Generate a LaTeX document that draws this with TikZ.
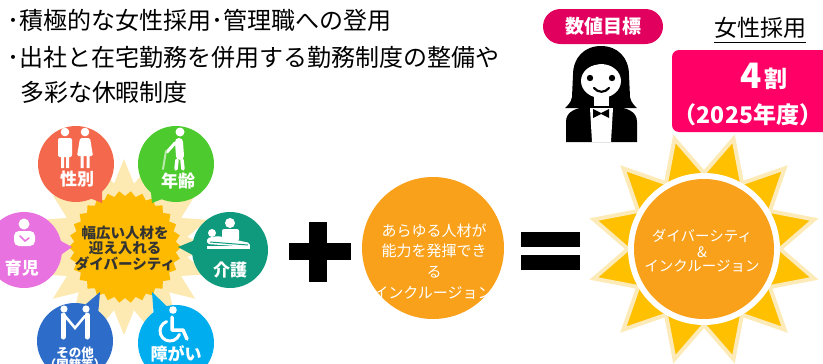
\documentclass[tikz,border=0pt]{standalone}
\usepackage{fontspec}
\setmainfont{Noto Sans CJK JP}
\usetikzlibrary{calc}

\definecolor{goalpink}{HTML}{E2005F}
\definecolor{ratepink}{HTML}{FF0066}
\definecolor{palesun}{HTML}{FDE9B2}
\definecolor{goldsun}{HTML}{FDBA00}
\definecolor{rayyellow}{HTML}{FFC000}
\definecolor{rayedge}{HTML}{FCEAB8}
\definecolor{incorange}{HTML}{F9A11B}
\definecolor{cgender}{HTML}{F4694D}
\definecolor{cage}{HTML}{4DCB2E}
\definecolor{cchild}{HTML}{E873E0}
\definecolor{ccare}{HTML}{0F9A7E}
\definecolor{cother}{HTML}{2E6CC9}
\definecolor{cdisab}{HTML}{00AEEF}
\definecolor{darktext}{HTML}{333333}

\newcommand\fsz[1]{\fontsize{#1}{#1}\selectfont}

\tikzset{
  every node/.style={inner sep=0pt, outer sep=0pt},
  bodytext/.style={anchor=base west, font=\fsz{24}},
  topic/.style={circle, minimum size=76pt},
  topiclabel/.style={text=white, font=\bfseries\fsz{17}},
  smalllabel/.style={text=white, font=\bfseries\fsz{12.5}},
  iconline/.style={draw=white, line cap=round},
  centertext/.style={text=darktext, font=\bfseries\fsz{14.5}},
  inctext/.style={text=white, anchor=base, font=\fsz{15}},
  suntext/.style={text=white, anchor=base, font=\fsz{14.5}},
}

\begin{document}
\begin{tikzpicture}[x=1pt,y=-1pt]
\path[use as bounding box] (0,0) rectangle (823,364);
\clip (0,0) rectangle (823,364);

% ---------- policy text ----------
\node[bodytext] (line1) at (8,30) {･積極的な女性採用･管理職への登用};
\node[bodytext] (line2) at (8,66) {･出社と在宅勤務を併用する勤務制度の整備や};
\node[bodytext] (line3) at (20,101) {多彩な休暇制度};

% ---------- numerical target ----------
\node[fill=goalpink, rounded corners=17.5pt, minimum width=120pt, minimum height=35pt,
      text=white, font=\bfseries\fsz{19}] (goal) at (603,26.5) {数値目標};

\node[font=\fsz{23}, anchor=base] (rateTitle) at (760,36) {女性採用};
\draw[line width=1.3pt] ($(rateTitle.base west)+(0,6.5)$) -- ($(rateTitle.base east)+(0,6.5)$);

\fill[ratepink, rounded corners=7pt] (672,50) rectangle (834,132);
\node[anchor=base east, text=white, font=\bfseries\fsz{35}] (four) at (762,88) {4};
\node[anchor=base west, text=white, font=\bfseries\fsz{23}] (wari) at (764,87) {割};
\node[anchor=base, text=white, font=\bfseries\fsz{23}] (year) at (748,123) {（2025年度）};

% woman icon
\fill[black] (601,46) .. controls (584,46) and (573,58) .. (573,75) -- (572,97)
   .. controls (571,103) and (567,106) .. (565,108) -- (637,108)
   .. controls (635,106) and (631,103) .. (630,97) -- (629,75)
   .. controls (629,58) and (618,46) .. (601,46) -- cycle;
\fill[white] (601,81) ellipse[x radius=20, y radius=17];
\fill[black] (580,74) .. controls (590,62) and (610,60) .. (623,72) -- (623,60) -- (580,60) -- cycle;
\fill[white] (594,94) rectangle (609,108);
\fill[black] (590,78) circle (3.2);
\fill[black] (612,78) circle (3.2);
\draw[line width=2.2pt, line cap=round] (594,88) .. controls (598,93) and (605,93) .. (609,88);
\fill[black] (566,142) -- (566,122) .. controls (566,111) and (576,108) .. (590,106)
   -- (613,106) .. controls (627,108) and (637,111) .. (637,122) -- (637,142) -- cycle;
\fill[white] (590,108) -- (613,108) -- (611,142) -- (592,142) -- cycle;
\fill[black] (593,109) -- (601,113) -- (609,109) -- (609,118) -- (601,114) -- (593,118) -- cycle;

% ---------- diversity burst ----------
\fill[palesun, shift={(124,247)}] (0:88)
  \foreach \i [evaluate=\i as \r using {mod(\i,2)==0 ? 88 : 64}] in {1,...,39} { -- (\i*9:\r) } -- cycle;
\fill[goldsun, shift={(125,247)}] (0:56)
  \foreach \i [evaluate=\i as \r using {mod(\i,2)==0 ? 56 : 51}] in {1,...,59} { -- (\i*6:\r) } -- cycle;
\node[centertext, align=center] (hub) at (125,248.5) {幅広い人材を\\[1pt]迎え入れる\\[1pt]ダイバーシティ};

% gender
\coordinate (gendertip) at (102,203);
\node[topic, fill=cgender] (gender) at (76,164) {};
\fill[cgender] ($(gender.center)!36pt!13:(gendertip)$) -- (gendertip) -- ($(gender.center)!36pt!-13:(gendertip)$) -- cycle;
\begin{scope}[shift={(76,164)}]
  \fill[white] (-11,-32) circle (4.3);
  \fill[white, rounded corners=2pt] (-18,-26) rectangle (-4,-7);
  \fill[white] (-15,-9) rectangle (-12,4) (-10,-9) rectangle (-7,4);
  \fill[white] (9,-32) circle (4.3);
  \fill[white, rounded corners=1.5pt] (4,-26) -- (14,-26) -- (17,-8) -- (1,-8) -- cycle;
  \fill[white] (4.5,-9) rectangle (7.5,4) (10.5,-9) rectangle (13.5,4);
\end{scope}
\node[topiclabel] (genderlbl) at (77,179) {性別};

% age
\coordinate (agetip) at (152,203);
\node[topic, fill=cage] (age) at (176,164) {};
\fill[cage] ($(age.center)!36pt!13:(agetip)$) -- (agetip) -- ($(age.center)!36pt!-13:(agetip)$) -- cycle;
\begin{scope}[shift={(176,164)}]
  \fill[white] (4,-32) circle (4.5);
  \draw[iconline, line width=8pt] (3,-22) -- (4,-8);
  \draw[iconline, line width=3.5pt] (1,-4) -- (0,5) (6,-4) -- (7,5);
  \draw[iconline, line width=3pt] (-1,-21) -- (-9,-12);
  \draw[iconline, line width=2pt, white!60!cage] (-10,-13) -- (-13,5);
\end{scope}
\node[topiclabel] (agelbl) at (178,181) {年齢};

% childcare
\coordinate (childtip) at (72,247);
\node[topic, fill=cchild] (child) at (24,250) {};
\fill[cchild] ($(child.center)!36pt!13:(childtip)$) -- (childtip) -- ($(child.center)!36pt!-13:(childtip)$) -- cycle;
\begin{scope}[shift={(24,250)}]
  \fill[white] (0,-26) circle (5.5);
  \fill[white, rounded corners=5pt] (-10,-19) rectangle (11,-4);
  \draw[cchild, line width=1.5pt, line cap=round] (-4,-14) -- (1,-9) -- (5,-12);
\end{scope}
\node[topiclabel] (childlbl) at (22,268.5) {育児};

% nursing care
\coordinate (caretip) at (178,247);
\node[topic, fill=ccare] (care) at (230,250) {};
\fill[ccare] ($(care.center)!36pt!13:(caretip)$) -- (caretip) -- ($(care.center)!36pt!-13:(caretip)$) -- cycle;
\begin{scope}[shift={(230,250)}]
  \fill[white] (0,-27) circle (5);
  \fill[white, rounded corners=2pt] (-8,-21) rectangle (9,-9);
  \fill[white] (-18,-17) circle (4);
  \fill[white, rounded corners=2pt] (-23,-12) -- (-12,-14) -- (20,-7) -- (20,-3) -- (-23,-6) -- cycle;
  \draw[ccare, line width=1pt] (-20,-8) -- (18,-5);
  \fill[white] (-23,-4) rectangle (20,-1);
\end{scope}
\node[topiclabel] (carelbl) at (230,270) {介護};

% others (nationality etc.)
\coordinate (othertip) at (100,292);
\node[topic, fill=cother] (other) at (75,341) {};
\fill[cother] ($(other.center)!36pt!13:(othertip)$) -- (othertip) -- ($(other.center)!36pt!-13:(othertip)$) -- cycle;
\begin{scope}[shift={(75,341)}]
  \fill[white] (-11,-32) circle (3.6) (11,-32) circle (3.6);
  \draw[iconline, line width=5pt] (-12,-26) -- (-12,-4) (12,-26) -- (12,-4);
  \draw[iconline, line width=2.5pt] (-10,-25) -- (0,-13) -- (10,-25);
\end{scope}
\node[smalllabel] (otherlbl) at (75,352.5) {その他};
\node[smalllabel] (otherlbl2) at (75,364.5) {（国籍等）};

% disability
\coordinate (disabtip) at (152,292);
\node[topic, fill=cdisab] (disab) at (176,343) {};
\fill[cdisab] ($(disab.center)!36pt!13:(disabtip)$) -- (disabtip) -- ($(disab.center)!36pt!-13:(disabtip)$) -- cycle;
\begin{scope}[shift={(176,343)}]
  \fill[white] (-3,-33) circle (3.8);
  \draw[iconline, line width=3.5pt, line join=round] (-4,-26) -- (-4,-13) -- (7,-13) -- (11,-4);
  \draw[iconline, line width=3pt] (-9.4,-21.4) arc[start angle=-110, end angle=-340, radius=10];
\end{scope}
\node[topiclabel] (disablbl) at (176,354) {障がい};

% ---------- plus ----------
\fill[black] (309,222) rectangle (327,282);
\fill[black] (289,243) rectangle (351,260);

% ---------- inclusion circle ----------
\node[circle, fill=incorange, minimum size=142pt] (incl) at (433,248) {};
\begin{scope}
  \clip (433,248) circle (71);
  \node[inctext] (inc1) at (434,236) {あらゆる人材が};
  \node[inctext] (inc2) at (434,256.5) {能力を発揮でき};
  \node[inctext] (inc3) at (434,277.5) {る};
  \node[inctext] (inc4) at (433,298.5) {インクルージョン};
\end{scope}

% ---------- equals ----------
\fill[black] (521,232) rectangle (580,247);
\fill[black] (521,255) rectangle (580,270);

% ---------- diversity & inclusion sun ----------
\filldraw[fill=rayyellow, draw=rayedge, line width=4pt, shift={(704,249)}] (0:76)
  \foreach \i [evaluate=\i as \r using {mod(\i,2)==0 ? 76 : 114}] in {1,...,23} { -- (\i*15:\r) } -- cycle;
\fill[white] (704,249) circle (76);
\node[circle, fill=incorange, minimum size=140pt] (dni) at (704,249) {};
\node[suntext] (dni1) at (702,241.5) {ダイバーシティ};
\node[suntext] (dni2) at (702,257) {\&};
\node[suntext] (dni3) at (702,271.5) {インクルージョン};

\end{tikzpicture}
\end{document}
